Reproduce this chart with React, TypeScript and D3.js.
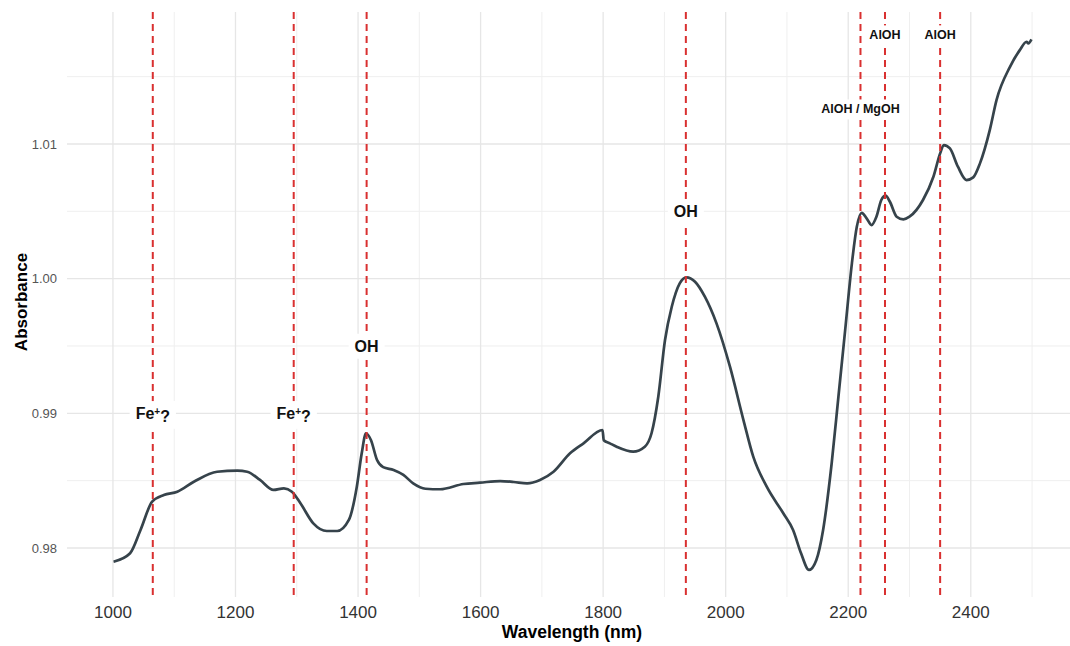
import React, { useEffect, useRef } from "react";
import * as d3 from "d3";

// spectrum
const wavelength = [
  1001, 1028, 1045, 1064, 1083, 1105, 1132, 1170, 1203, 1219, 1240, 1262, 1279, 1292, 1306, 1327,
  1349, 1366, 1385, 1398, 1406, 1413, 1421, 1431, 1441, 1458, 1474, 1490, 1510, 1534, 1572, 1599,
  1632, 1654, 1676, 1697, 1719, 1746, 1768, 1799, 1801, 1811, 1822, 1849, 1868, 1879, 1890, 1901,
  1912, 1925, 1936, 1950, 1966, 1985, 2007, 2029, 2045, 2067, 2094, 2110, 2123, 2136, 2148, 2159,
  2173, 2184, 2195, 2206, 2214, 2222, 2230, 2238, 2246, 2254, 2261, 2268, 2279, 2290, 2300, 2322,
  2339, 2350, 2356, 2366, 2379, 2393, 2404, 2415, 2431, 2442, 2464, 2480, 2491, 2494, 2499,
];
const absorbance = [
  0.97898, 0.97961, 0.98134, 0.98344, 0.98393, 0.98418, 0.98492, 0.98566, 0.98574, 0.98566,
  0.98505, 0.98431, 0.98443, 0.98418, 0.98332, 0.98183, 0.98126, 0.98126, 0.98208, 0.98455,
  0.98703, 0.98852, 0.98802, 0.98653, 0.986, 0.98579, 0.98542, 0.9848, 0.9844, 0.98436, 0.98475,
  0.98485, 0.98497, 0.9849, 0.9848, 0.98505, 0.98566, 0.98703, 0.98777, 0.98876, 0.988, 0.98777,
  0.98752, 0.98715, 0.98752, 0.98852, 0.99123, 0.99544, 0.99791, 0.99965, 1.0001, 0.99977,
  0.99866, 0.99668, 0.99346, 0.9895, 0.98678, 0.98455, 0.98258, 0.98134, 0.97961, 0.97837,
  0.97911, 0.98134, 0.98629, 0.99123, 0.99618, 1.00114, 1.00385, 1.00489, 1.00448, 1.00398,
  1.0046, 1.00584, 1.00616, 1.00571, 1.0046, 1.0044, 1.0046, 1.00584, 1.00757, 1.0093, 1.00992,
  1.00967, 1.00831, 1.00732, 1.00752, 1.00856, 1.01103, 1.01326, 1.01573, 1.01697, 1.01759,
  1.01747, 1.01777,
];

// band markers and their labels
const bandPos = [1065, 1295, 1414, 1935, 2220, 2260, 2350];
const bandLabel = ["Fe+?", "Fe+?", "OH", "OH", "AlOH / MgOH", "AlOH", "AlOH"];
const bandLabelY = [0.99, 0.99, 0.995, 1.005, 1.0126, 1.0181, 1.0181];

const xMajor = [1000, 1200, 1400, 1600, 1800, 2000, 2200, 2400];
const xMinor = [1100, 1300, 1500, 1700, 1900, 2100, 2300, 2500];
const yMajor = [0.98, 0.99, 1.0, 1.01];
const yMinor = [0.985, 0.995, 1.005, 1.015];

export default function App() {
  const svgRef = useRef<SVGSVGElement>(null);

  useEffect(() => {
    const width = 1070;
    const height = 646;
    const font = "'Liberation Sans', Arial, sans-serif";
    const svg = d3.select(svgRef.current);
    svg.selectAll("*").remove();
    svg.attr("width", width).attr("height", height);

    const x = d3.scaleLinear().domain([925, 2575]).range([67, 1078]);
    const y = d3.scaleLinear().domain([0.97636, 1.0198]).range([597, 12]);
    const [top, bottom] = [12, 597];

    const grid = svg.append("g");
    grid
      .selectAll("line.hmin")
      .data(yMinor)
      .join("line")
      .attr("x1", 67)
      .attr("x2", 1078)
      .attr("y1", (d) => y(d))
      .attr("y2", (d) => y(d))
      .attr("stroke", "#efefef")
      .attr("stroke-width", 1);
    grid
      .selectAll("line.vmin")
      .data(xMinor)
      .join("line")
      .attr("x1", (d) => x(d))
      .attr("x2", (d) => x(d))
      .attr("y1", top)
      .attr("y2", bottom)
      .attr("stroke", "#efefef")
      .attr("stroke-width", 1);
    grid
      .selectAll("line.hmaj")
      .data(yMajor)
      .join("line")
      .attr("x1", 67)
      .attr("x2", 1078)
      .attr("y1", (d) => y(d))
      .attr("y2", (d) => y(d))
      .attr("stroke", "#e6e6e6")
      .attr("stroke-width", 1.3);
    grid
      .selectAll("line.vmaj")
      .data(xMajor)
      .join("line")
      .attr("x1", (d) => x(d))
      .attr("x2", (d) => x(d))
      .attr("y1", top)
      .attr("y2", bottom)
      .attr("stroke", "#e6e6e6")
      .attr("stroke-width", 1.3);

    // tick labels
    svg
      .append("g")
      .selectAll("text")
      .data(yMajor)
      .join("text")
      .attr("x", 57)
      .attr("y", (d) => y(d))
      .attr("dy", "0.35em")
      .attr("text-anchor", "end")
      .style("font-family", font)
      .style("font-size", "13px")
      .attr("fill", "#555")
      .text((d) => d3.format(".2f")(d));
    svg
      .append("g")
      .selectAll("text")
      .data(xMajor)
      .join("text")
      .attr("x", (d) => x(d))
      .attr("y", 618)
      .attr("text-anchor", "middle")
      .style("font-family", font)
      .style("font-size", "17px")
      .attr("fill", "#333")
      .text((d) => d);

    // axis titles
    svg
      .append("text")
      .attr("x", 572)
      .attr("y", 638)
      .attr("text-anchor", "middle")
      .style("font-family", font)
      .style("font-size", "17.5px")
      .style("font-weight", "bold")
      .text("Wavelength (nm)");
    svg
      .append("text")
      .attr("transform", "translate(27,302) rotate(-90)")
      .attr("text-anchor", "middle")
      .style("font-family", font)
      .style("font-size", "17px")
      .style("font-weight", "bold")
      .text("Absorbance");

    // spectrum
    const pts = wavelength.map((w, i) => [w, absorbance[i]] as [number, number]);
    const line = d3
      .line<[number, number]>()
      .x((d) => x(d[0]))
      .y((d) => y(d[1]))
      .curve(d3.curveMonotoneX);
    svg
      .append("path")
      .attr("d", line(pts))
      .attr("fill", "none")
      .attr("stroke", "#36434b")
      .attr("stroke-width", 2.7)
      .attr("stroke-linejoin", "round");

    // dashed band markers
    svg
      .append("g")
      .selectAll("line")
      .data(bandPos)
      .join("line")
      .attr("x1", (d) => x(d))
      .attr("x2", (d) => x(d))
      .attr("y1", top)
      .attr("y2", bottom)
      .attr("stroke", "#d93030")
      .attr("stroke-width", 2)
      .attr("stroke-dasharray", "7,5");

    // labels with white box
    const labels = svg.append("g");
    bandLabel.forEach((lab, i) => {
      const small = lab.startsWith("AlOH");
      const g = labels.append("g");
      const t = g
        .append("text")
        .attr("x", x(bandPos[i]))
        .attr("y", y(bandLabelY[i]))
        .attr("dy", "0.36em")
        .attr("text-anchor", "middle")
        .style("font-family", font)
        .style("font-size", small ? "12.5px" : "16px")
        .style("font-weight", "bold")
        .attr("fill", "#111");
      if (lab === "Fe+?") {
        t.append("tspan").text("Fe");
        t.append("tspan").attr("dy", "-0.45em").style("font-size", "10px").text("+");
        t.append("tspan").attr("dy", "0.45em").text("?");
      } else {
        t.text(lab);
      }
      const bb = (t.node() as SVGTextElement).getBBox();
      const padX = small ? 4 : 6;
      const padY = small ? 3 : 4;
      g.insert("rect", "text")
        .attr("x", bb.x - padX)
        .attr("y", bb.y - padY)
        .attr("width", bb.width + padX * 2)
        .attr("height", bb.height + padY * 2)
        .attr("fill", "white");
    });
  }, []);

  return <svg ref={svgRef} style={{ position: "absolute", left: 0, top: 0, background: "white" }}></svg>;
}
